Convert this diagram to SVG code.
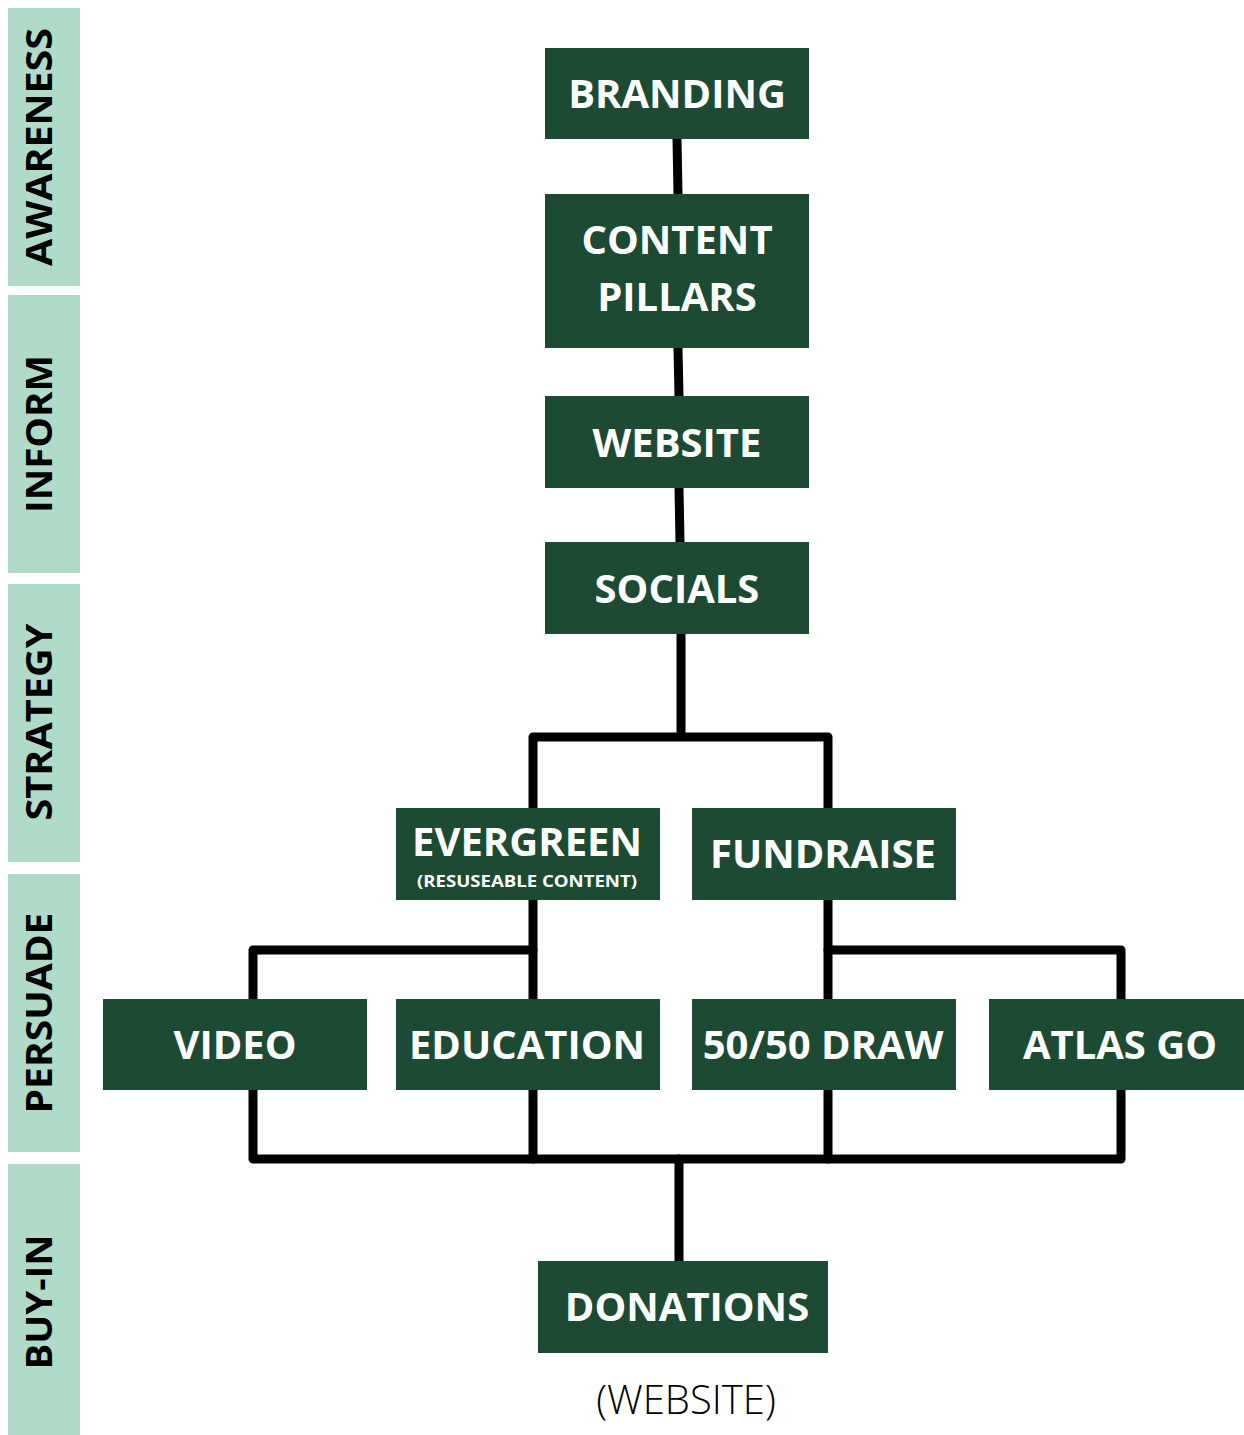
<svg xmlns="http://www.w3.org/2000/svg" width="1244" height="1435" viewBox="0 0 1244 1435">
<style>
.band{fill:#B0DBC8}
.side{font-family:"Open Sans","Liberation Sans",sans-serif;font-weight:700;font-size:35px;fill:#000}
.box{fill:#1C4A33}
.t{font-family:"Open Sans","Liberation Sans",sans-serif;font-weight:700;font-size:40px;fill:#fff;text-anchor:middle}
.st{font-family:"Open Sans","Liberation Sans",sans-serif;font-weight:700;font-size:16px;fill:#fff;text-anchor:middle}
.c{fill:none;stroke:#000;stroke-width:9;stroke-linecap:round;stroke-linejoin:round}
</style>
<rect width="1244" height="1435" fill="#fff"/>
<g id="sidebar">
<g id="stage-awareness"><rect class="band" x="8" y="8" width="72" height="278"/><text class="side" transform="translate(52,147) rotate(-90)" text-anchor="middle" textLength="238" lengthAdjust="spacingAndGlyphs">AWARENESS</text></g>
<g id="stage-inform"><rect class="band" x="8" y="295" width="72" height="278"/><text class="side" transform="translate(52,434) rotate(-90)" text-anchor="middle" textLength="158" lengthAdjust="spacingAndGlyphs">INFORM</text></g>
<g id="stage-strategy"><rect class="band" x="8" y="584" width="72" height="278"/><text class="side" transform="translate(52,722) rotate(-90)" text-anchor="middle" textLength="197" lengthAdjust="spacingAndGlyphs">STRATEGY</text></g>
<g id="stage-persuade"><rect class="band" x="8" y="874" width="72" height="278"/><text class="side" transform="translate(52,1013) rotate(-90)" text-anchor="middle" textLength="201" lengthAdjust="spacingAndGlyphs">PERSUADE</text></g>
<g id="stage-buyin"><rect class="band" x="8" y="1164" width="72" height="271"/><text class="side" transform="translate(52,1302) rotate(-90)" text-anchor="middle" textLength="135" lengthAdjust="spacingAndGlyphs">BUY-IN</text></g>
</g>
<g id="connectors">
<path class="c" d="M677,139 L678,194"/>
<path class="c" d="M678,348 L679,396"/>
<path class="c" d="M679,488 L680,542"/>
<path class="c" d="M681,634 L681,731"/>
<path class="c" d="M533,808 V737 H828 V808"/>
<path class="c" d="M533,900 V1159"/>
<path class="c" d="M533,950 H253 V1159 H1121 V950 H828"/>
<path class="c" d="M828,900 V1159"/>
<path class="c" d="M679,1159 V1261"/>
</g>
<g id="node-branding"><rect class="box" x="545" y="48" width="264" height="91"/><text class="t" x="677" y="108">BRANDING</text></g>
<g id="node-content-pillars"><rect class="box" x="545" y="194" width="264" height="154"/><text class="t" x="677" y="254">CONTENT</text><text class="t" x="677" y="311">PILLARS</text></g>
<g id="node-website"><rect class="box" x="545" y="396" width="264" height="92"/><text class="t" x="677" y="457">WEBSITE</text></g>
<g id="node-socials"><rect class="box" x="545" y="542" width="264" height="92"/><text class="t" x="677" y="603">SOCIALS</text></g>
<g id="node-evergreen"><rect class="box" x="396" y="808" width="264" height="92"/><text class="t" x="527" y="856">EVERGREEN</text><text class="st" x="527" y="887" textLength="220" lengthAdjust="spacingAndGlyphs">(RESUSEABLE CONTENT)</text></g>
<g id="node-fundraise"><rect class="box" x="692" y="808" width="264" height="92"/><text class="t" x="823" y="868">FUNDRAISE</text></g>
<g id="node-video"><rect class="box" x="103" y="999" width="264" height="91"/><text class="t" x="235" y="1059">VIDEO</text></g>
<g id="node-education"><rect class="box" x="396" y="999" width="264" height="91"/><text class="t" x="527" y="1059">EDUCATION</text></g>
<g id="node-5050-draw"><rect class="box" x="692" y="999" width="264" height="91"/><text class="t" x="823" y="1059">50/50 DRAW</text></g>
<g id="node-atlas-go"><rect class="box" x="989" y="999" width="262" height="91"/><text class="t" x="1120" y="1059">ATLAS GO</text></g>
<g id="node-donations"><rect class="box" x="538" y="1261" width="290" height="92"/><text class="t" x="687" y="1321">DONATIONS</text><text x="686" y="1414" font-family="'Open Sans','Liberation Sans',sans-serif" font-weight="300" font-size="40" fill="#000" text-anchor="middle">(WEBSITE)</text></g>
</svg>
